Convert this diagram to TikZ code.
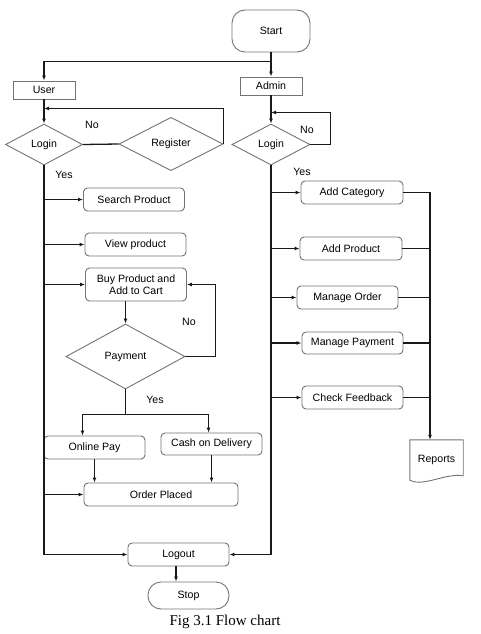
\documentclass[tikz,border=0pt]{standalone}
\usepackage{fontspec}
\setmainfont{Liberation Serif}
\setsansfont{Liberation Sans}
\usetikzlibrary{shapes.geometric,arrows.meta}

\begin{document}
\begin{tikzpicture}[x=1pt, y=-1pt, >={Latex[length=5pt,width=4pt]},
  font=\sffamily\fontsize{10.6}{12.5}\selectfont,
  flow/.style={line width=1.3pt, black!90},
  outline/.style={draw=black!55, line width=0.9pt},
  box/.style={outline, rounded corners=4pt, inner sep=1pt, align=center, minimum width=101, minimum height=23},
  plainbox/.style={outline, inner sep=1pt, minimum width=62, minimum height=18},
  term/.style={outline, rounded corners=13pt, inner sep=1pt},
  decision/.style={outline, diamond, inner sep=1pt}]
\useasboundingbox (0,0) rectangle (481,634);

\node[term, minimum width=78, minimum height=42] (start) at (271,31) {Start};
\node[plainbox] (user) at (44,90) {User};
\node[plainbox] (admin) at (271,86) {Admin};
\node[decision, minimum width=77, minimum height=41] (ulogin) at (44,144.5) {Login};
\node[decision, minimum width=104, minimum height=52] (register) at (171,144) {Register};
\node[decision, minimum width=78, minimum height=41] (alogin) at (271,144.5) {Login};

\node[box] (search) at (134,199.5) {Search Product};
\node[box] (view) at (135.5,244.5) {View product};
\node[box, minimum height=33] (buy) at (136,284.5) {Buy Product and\\Add to Cart};
\node[decision, minimum width=119, minimum height=65] (payment) at (125.5,356.5) {Payment};
\node[box] (online) at (94.5,447.5) {Online Pay};
\node[box, minimum height=22] (cash) at (211.5,444) {Cash on Delivery};
\node[box, minimum width=154] (order) at (161,494.5) {Order Placed};
\node[box] (logout) at (178.5,554.5) {Logout};
\node[term, minimum width=81, minimum height=27] (stop) at (188.5,595.5) {Stop};

\node[box, minimum width=102] (category) at (352,192.5) {Add Category};
\node[box, minimum width=102] (product) at (351,248.5) {Add Product};
\node[box] (manorder) at (347.5,297.5) {Manage Order};
\node[box, minimum height=22] (manpay) at (352.5,343) {Manage Payment};
\node[box] (feedback) at (352.5,397.5) {Check Feedback};
\node[minimum width=53, minimum height=40, inner sep=1pt] (reports) at (436.5,460) {Reports};
\draw[outline] (reports.north west) -- (reports.north east) -- ++(0,36)
  .. controls +(-18,-3) and +(14,7) .. (reports.south west) -- cycle;

\node (nouser) at (92,125) {No};
\node (noadmin) at (307,130) {No};
\node (yesuser) at (64,175) {Yes};
\node (yesadmin) at (302,172) {Yes};
\node (nopay) at (189,322) {No};
\node (yespay) at (155,400) {Yes};

\node[font=\rmfamily\fontsize{15}{18}\selectfont] (caption) at (225,622) {Fig 3.1 Flow chart};

% start split
\draw[flow] (start.south) -- ++(0,9) coordinate (split);
\draw[flow,->] (split) -| (user.north);
\draw[flow,->] (split) -- (admin.north);

% user side
\path (user.south) ++(0,9) coordinate (ujoin);
\draw[flow,->] (user.south) -- (ulogin.north);
\draw[flow] (ulogin.east) -- (register.west);
\draw[flow,->] (register.east) |- (ujoin);
\draw[flow,->] (ulogin.south) |- (logout.west);
\foreach \n in {search,view,buy,order}
  \draw[flow,->] (ulogin.south |- \n.west) -- (\n.west);
\draw[flow,->] (buy.south -| payment.north) -- (payment.north);
\draw[flow,->] (payment.east) -- ++(30,0) |- (buy.east);
\draw[flow] (payment.south) -- ++(0,25) coordinate (psplit);
\draw[flow,->] (psplit) -| ([xshift=-12pt]online.north);
\draw[flow,->] (psplit) -| ([xshift=-3pt]cash.north);
\draw[flow,->] (online.south) -- (online.south |- order.north);
\draw[flow,->] (cash.south) -- (cash.south |- order.north);
\draw[flow,->] (logout.south -| 176,0) -- (stop.north -| 176,0);

% admin side
\path (admin.south) ++(0,17) coordinate (ajoin);
\draw[flow,->] (admin.south) -- (alogin.north);
\draw[flow,->] (alogin.east) -- ++(20,0) |- (ajoin);
\draw[flow,->] (alogin.south) |- (logout.east);
\foreach \n in {category,product,manorder,manpay,feedback}
  \draw[flow,->] (alogin.south |- \n.west) -- (\n.west);
\coordinate (collect) at (430,192.5);
\draw[flow,->] (category.east) -- (collect) -- (collect |- reports.north);
\foreach \n in {product,manorder,manpay,feedback}
  \draw[flow] (\n.east) -- (\n.east -| collect);
\end{tikzpicture}
\end{document}
